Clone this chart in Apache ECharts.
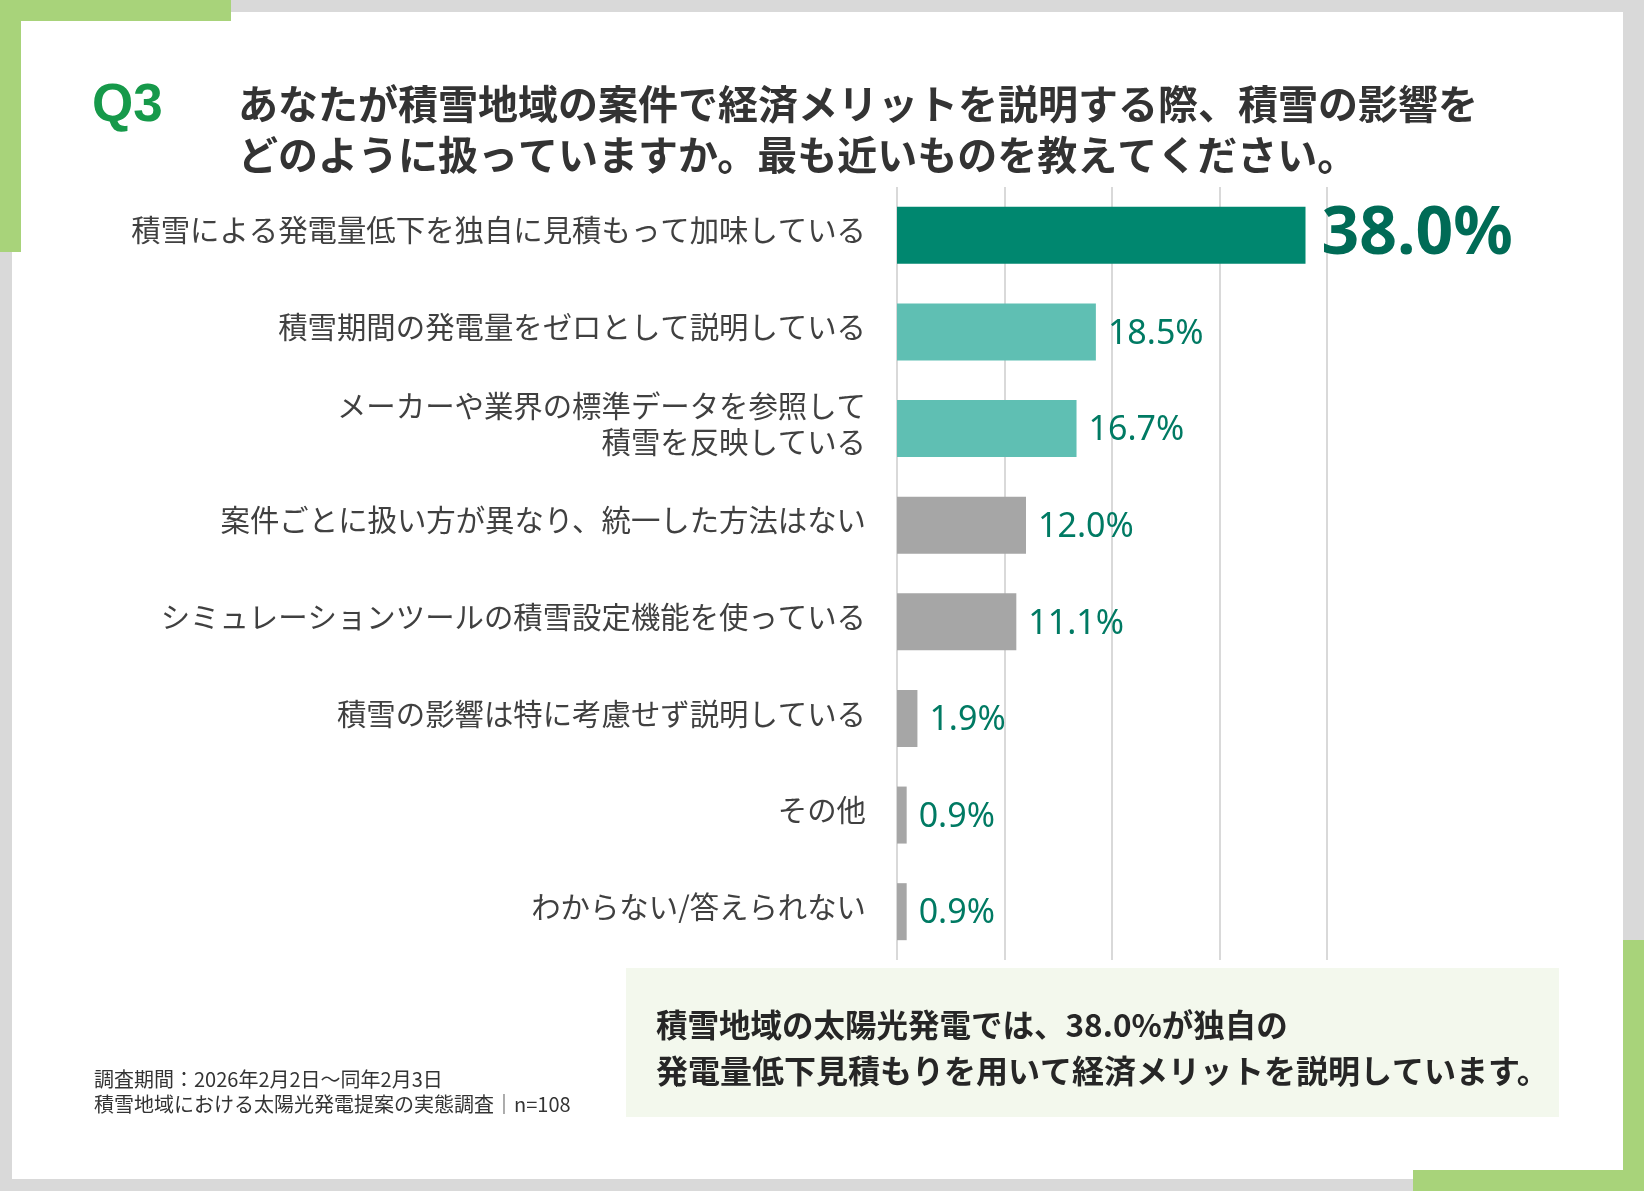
<!DOCTYPE html>
<html>
<head>
<meta charset="utf-8">
<script src="https://cdn.jsdelivr.net/npm/echarts@6/dist/echarts.min.js"></script>
<style>
  html, body { margin: 0; padding: 0; background: #d9d9d9; }
  #chart { width: 1644px; height: 1191px; }
</style>
</head>
<body>
<div id="chart"></div>
<script>
// ---- data ----
const categories = [
  '積雪による発電量低下を独自に見積もって加味している',
  '積雪期間の発電量をゼロとして説明している',
  'メーカーや業界の標準データを参照して\n積雪を反映している',
  '案件ごとに扱い方が異なり、統一した方法はない',
  'シミュレーションツールの積雪設定機能を使っている',
  '積雪の影響は特に考慮せず説明している',
  'その他',
  'わからない/答えられない'
];
const values = [38.0, 18.5, 16.7, 12.0, 11.1, 1.9, 0.9, 0.9];
const axisTicks = [0, 10, 20, 30, 40];
const questionNo = 'Q3';
const titleLines = [
  'あなたが積雪地域の案件で経済メリットを説明する際、積雪の影響を',
  'どのように扱っていますか。最も近いものを教えてください。'
];
const summaryLines = [
  '積雪地域の太陽光発電では、38.0%が独自の',
  '発電量低下見積もりを用いて経済メリットを説明しています。'
];
const footnoteLines = [
  '調査期間：2026年2月2日～同年2月3日',
  '積雪地域における太陽光発電提案の実態調査│n=108'
];

// ---- styles ----
const barColors = ['#00876f', '#5fbfb3', '#5fbfb3', '#a6a6a6', '#a6a6a6', '#a6a6a6', '#a6a6a6', '#a6a6a6'];
const JP = '"Noto Sans CJK JP", "Noto Sans", sans-serif';
const NUM = '"Liberation Sans Narrow", "Noto Sans", sans-serif';
const green = '#a8d37a';

const chart = echarts.init(document.getElementById('chart'), null, { renderer: 'canvas' });

const option = {
  backgroundColor: 'transparent',
  animation: false,
  grid: { left: 897, right: 317, top: 187, bottom: 231, containLabel: false },
  xAxis: {
    type: 'value',
    min: axisTicks[0],
    max: axisTicks[axisTicks.length - 1],
    interval: axisTicks[1] - axisTicks[0],
    axisLabel: { show: false },
    axisLine: { show: false },
    axisTick: { show: false },
    splitLine: { show: true, lineStyle: { color: '#d9d9d9', width: 2 } }
  },
  yAxis: {
    type: 'category',
    inverse: true,
    data: categories,
    axisLine: { show: false },
    axisTick: { show: false },
    axisLabel: {
      margin: 31,
      align: 'right',
      // a trailing spacer line lifts the text slightly above the bar centre
      formatter: v => v.split('\n').map(s => '{a|' + s + '}').join('\n') + '\n{s| }',
      rich: {
        a: {
          color: '#404040',
          fontFamily: JP,
          fontSize: 29.4,
          lineHeight: 36
        },
        s: { fontSize: 1, lineHeight: 10 }
      }
    }
  },
  series: [{
    type: 'bar',
    barWidth: 57,
    data: values.map((v, i) => ({
      value: v,
      itemStyle: { color: barColors[i] }
    })),
    label: {
      show: true,
      position: 'right',
      distance: 12,
      formatter: p => (p.dataIndex === 0 ? '{big|' : '{norm|') + p.value.toFixed(1) + '%}',
      rich: {
        big: { fontFamily: NUM, fontSize: 66, fontWeight: 'bold', color: '#006b56', padding: [0, 0, 0, 4] },
        norm: { fontFamily: NUM, fontSize: 34, color: '#007a63', padding: [4, 0, 0, 0] }
      }
    }
  }],
  graphic: [
    // frame
    { type: 'rect', z: -100, shape: { x: 12, y: 12, width: 1611, height: 1167 }, style: { fill: '#ffffff' } },
    { type: 'rect', z: -90, shape: { x: 0, y: 0, width: 231, height: 21 }, style: { fill: green } },
    { type: 'rect', z: -90, shape: { x: 0, y: 0, width: 21, height: 252 }, style: { fill: green } },
    { type: 'rect', z: -90, shape: { x: 1623, y: 940, width: 21, height: 251 }, style: { fill: green } },
    { type: 'rect', z: -90, shape: { x: 1413, y: 1170, width: 231, height: 21 }, style: { fill: green } },
    // title
    { type: 'text', left: 92, top: 80, style: { text: questionNo, font: 'bold 53px "Liberation Sans", Arial, sans-serif', fill: '#16994a' } },
    { type: 'text', left: 238, top: 84, style: { text: titleLines[0], font: 'bold 40px ' + JP, fill: '#333333' } },
    { type: 'text', left: 238, top: 135, style: { text: titleLines[1], font: 'bold 40px ' + JP, fill: '#333333' } },
    // summary box
    { type: 'rect', z: -50, shape: { x: 626, y: 968, width: 933, height: 149 }, style: { fill: '#f3f8ed' } },
    { type: 'text', left: 656, top: 1009, style: { text: summaryLines[0], font: 'bold 31.5px ' + JP, fill: '#262626' } },
    { type: 'text', left: 656, top: 1055, style: { text: summaryLines[1], font: 'bold 32px ' + JP, fill: '#262626' } },
    // footnote
    { type: 'text', left: 94, top: 1069, style: { text: footnoteLines[0], font: '20px ' + JP, fill: '#333333' } },
    { type: 'text', left: 94, top: 1094, style: { text: footnoteLines[1], font: '20px ' + JP, fill: '#333333' } }
  ]
};

chart.setOption(option);
</script>
</body>
</html>
